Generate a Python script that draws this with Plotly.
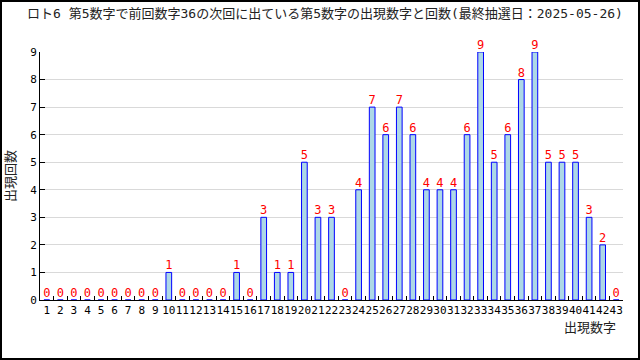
import plotly.graph_objects as go

numbers = [str(i) for i in range(1, 44)]
counts = [0, 0, 0, 0, 0, 0, 0, 0, 0, 1,
          0, 0, 0, 0, 1, 0, 3, 1, 1, 5,
          3, 3, 0, 4, 7, 6, 7, 6, 4, 4,
          4, 6, 9, 5, 6, 8, 9, 5, 5, 5,
          3, 2, 0]
title_text = "ロト6 第5数字で前回数字36の次回に出ている第5数字の出現数字と回数(最終抽選日：2025-05-26)"
x_title = "出現数字"
y_title = "出現回数"

W, H = 640, 360
L, R, T, B = 40, 17, 52, 60
pw, ph = W - L - R, H - T - B

mono = "DejaVu Sans Mono"
jp = "Noto Sans CJK JP"
mixed = "DejaVu Sans Mono, Noto Sans CJK JP"

fig = go.Figure(go.Bar(
    x=numbers, y=counts,
    width=0.42,
    marker=dict(color="#add8e6", line=dict(color="#0000ff", width=1)),
    text=[str(c) for c in counts],
    textposition="outside",
    constraintext="none",
    textfont=dict(color="#ff0000", size=12, family=mono),
    cliponaxis=False,
    hoverinfo="skip",
))

fig.update_layout(
    width=W, height=H,
    margin=dict(l=L, r=R, t=T, b=B),
    paper_bgcolor="white", plot_bgcolor="white",
    showlegend=False,
    bargap=0.5,
    title=dict(text=title_text, x=27 / W, xanchor="left", xref="container",
               y=1 - 13 / H, yanchor="middle", yref="container",
               font=dict(family=mixed, size=13, color="#222222")),
    xaxis=dict(type="category", tickson="boundaries", ticks="inside", ticklen=4,
               tickcolor="black", showline=True, linecolor="black", linewidth=1,
               showgrid=False, tickangle=0,
               tickfont=dict(family=mono, size=11, color="black"),
               range=[-0.5, 42.5]),
    yaxis=dict(range=[0, 9], dtick=1, ticks="inside", ticklen=5, tickcolor="black",
               showline=True, linecolor="black", linewidth=1,
               showgrid=True, gridcolor="#d9d9d9", gridwidth=1,
               zeroline=False,
               tickfont=dict(family=mono, size=11, color="black")),
    annotations=[
        dict(text=x_title, xref="paper", yref="paper",
             x=(618 - L) / pw, y=-(326 - (T + ph)) / ph,
             xanchor="right", yanchor="middle", showarrow=False,
             font=dict(family=jp, size=13, color="#222222")),
        dict(text=y_title, xref="paper", yref="paper",
             x=-(L - 9) / pw, y=0.5, textangle=-90,
             xanchor="center", yanchor="middle", showarrow=False,
             font=dict(family=jp, size=13, color="#222222")),
    ],
    shapes=[dict(type="rect", xref="paper", yref="paper",
                 x0=-(L - 1) / pw, x1=1 + (R - 1) / pw,
                 y0=-(B - 1) / ph, y1=1 + (T - 1) / ph,
                 line=dict(color="black", width=2), layer="above")],
)

fig.write_html("out.html", config={"displayModeBar": False},
               post_script="document.body.style.margin='0';document.body.style.overflow='hidden';")
